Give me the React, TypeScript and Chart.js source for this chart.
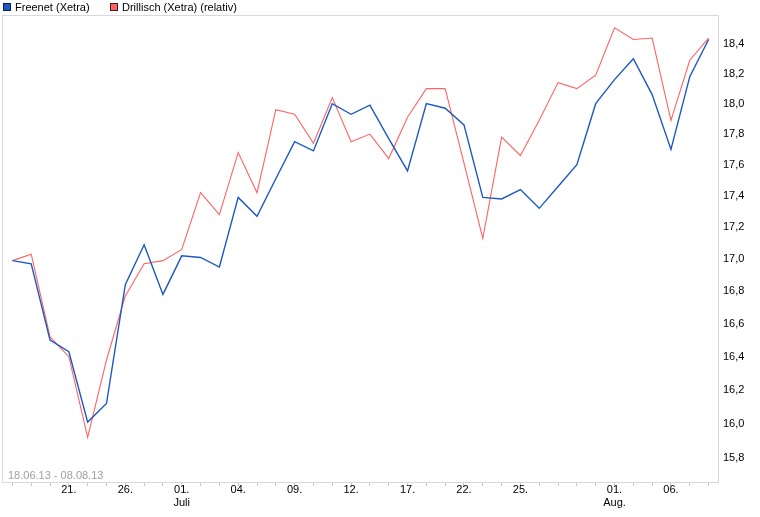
import React, { useEffect, useRef } from 'react';
import { Chart, registerables } from 'chart.js';

Chart.register(...registerables);

// Trading days 18.06.13 - 08.08.13
const categories = [
  '18.06.13', '19.06.13', '20.06.13', '21.06.13', '24.06.13', '25.06.13', '26.06.13', '27.06.13', '28.06.13',
  '01.07.13', '02.07.13', '03.07.13', '04.07.13', '05.07.13', '08.07.13', '09.07.13', '10.07.13', '11.07.13',
  '12.07.13', '15.07.13', '16.07.13', '17.07.13', '18.07.13', '19.07.13', '22.07.13', '23.07.13', '24.07.13',
  '25.07.13', '26.07.13', '29.07.13', '30.07.13', '31.07.13', '01.08.13', '02.08.13', '05.08.13', '06.08.13',
  '07.08.13', '08.08.13',
];

const xTickLabels: (string | string[])[] = [
  '', '', '', '21.', '', '', '26.', '', '',
  ['01.', 'Juli'], '', '', '04.', '', '', '09.', '', '',
  '12.', '', '', '17.', '', '', '22.', '', '',
  '25.', '', '', '', '', ['01.', 'Aug.'], '', '', '06.',
  '', '',
];

const freenet = [
  16.99, 16.97, 16.50, 16.43, 16.01, 16.12, 16.84, 17.09, 16.78,
  17.02, 17.01, 16.95, 17.39, 17.27, 17.51, 17.75, 17.69, 18.00,
  17.93, 17.99, 17.77, 17.56, 18.00, 17.97, 17.86, 17.39, 17.38,
  17.44, 17.32, 17.46, 17.60, 18.00, 18.16, 18.30, 18.06, 17.70,
  18.18, 18.43,
];

const drillischRel = [
  16.99, 17.03, 16.52, 16.40, 15.92, 16.38, 16.77, 16.97, 16.99,
  17.06, 17.42, 17.28, 17.68, 17.42, 17.96, 17.93, 17.74, 18.04,
  17.75, 17.80, 17.64, 17.91, 18.10, 18.10, 17.61, 17.13, 17.78,
  17.66, 17.89, 18.14, 18.10, 18.19, 18.51, 18.43, 18.44, 17.89,
  18.29, 18.44,
];

const yTicks = [15.8, 16.0, 16.2, 16.4, 16.6, 16.8, 17.0, 17.2, 17.4, 17.6, 17.8, 18.0, 18.2, 18.4];

const seriesNames = ['Freenet (Xetra)', 'Drillisch (Xetra) (relativ)'];
const dateRange = '18.06.13 - 08.08.13';

const FONT_FAMILY = '"Liberation Sans", Arial, sans-serif';
const BLUE = '#1c58c4';
const RED = '#ff6464';

export default function App() {
  const ref = useRef<HTMLCanvasElement>(null);

  useEffect(() => {
    const canvas = ref.current;
    if (!canvas) return;

    const decorations = {
      id: 'decorations',
      beforeDatasetsDraw(chart: any) {
        const { ctx, chartArea: a } = chart;
        ctx.save();
        ctx.strokeStyle = '#d9d9d9';
        ctx.lineWidth = 1;
        ctx.strokeRect(a.left - 0.5, a.top + 0.5, a.right - a.left + 1, a.bottom - a.top);
        ctx.font = `11px ${FONT_FAMILY}`;
        ctx.fillStyle = '#a0a0a0';
        ctx.textBaseline = 'middle';
        ctx.textAlign = 'left';
        ctx.fillText(dateRange, a.left + 5, a.bottom - 6);
        ctx.restore();
      },
      afterDraw(chart: any) {
        const { ctx } = chart;
        ctx.save();
        ctx.font = `11px ${FONT_FAMILY}`;
        ctx.textBaseline = 'middle';
        ctx.textAlign = 'left';
        const items = [
          { x: 3, text: seriesNames[0], fill: BLUE, stroke: '#10204a' },
          { x: 110, text: seriesNames[1], fill: RED, stroke: '#4a1a1a' },
        ];
        items.forEach((it) => {
          ctx.fillStyle = it.fill;
          ctx.fillRect(it.x, 3, 8, 8);
          ctx.strokeStyle = it.stroke;
          ctx.lineWidth = 1;
          ctx.strokeRect(it.x + 0.5, 3.5, 7, 7);
          ctx.fillStyle = '#000';
          ctx.fillText(it.text, it.x + 12, 7.5);
        });
        ctx.restore();
      },
    };

    const chart = new Chart(canvas, {
      type: 'line',
      data: {
        labels: categories,
        datasets: [
          {
            label: seriesNames[0],
            data: freenet,
            borderColor: BLUE,
            borderWidth: 1.4,
            pointRadius: 0,
            tension: 0,
            fill: false,
          },
          {
            label: seriesNames[1],
            data: drillischRel,
            borderColor: RED,
            borderWidth: 1.1,
            pointRadius: 0,
            tension: 0,
            fill: false,
          },
        ],
      },
      options: {
        responsive: false,
        animation: false,
        events: [],
        layout: { padding: { left: 3, top: 15, right: 0, bottom: 0 } },
        plugins: {
          legend: { display: false },
          tooltip: { enabled: false },
          title: { display: false },
        },
        scales: {
          x: {
            type: 'category',
            offset: true,
            grid: {
              display: true,
              drawOnChartArea: false,
              drawTicks: true,
              tickLength: 4,
              color: '#c8c8c8',
              offset: false,
            },
            border: { display: false },
            ticks: {
              autoSkip: false,
              maxRotation: 0,
              minRotation: 0,
              padding: -3,
              color: '#000',
              font: { family: FONT_FAMILY, size: 11 },
              callback: (_v: any, i: number) => xTickLabels[i],
            },
            afterFit: (s: any) => {
              s.height = 35;
            },
          },
          y: {
            type: 'logarithmic',
            position: 'right',
            min: 15.661,
            max: 18.597,
            bounds: 'data',
            grid: { display: false, drawTicks: false },
            border: { display: false },
            afterBuildTicks: (s: any) => {
              s.ticks = yTicks.map((v) => ({ value: v }));
            },
            ticks: {
              autoSkip: false,
              padding: 5,
              color: '#000',
              font: { family: FONT_FAMILY, size: 11 },
              callback: (v: any) => Number(v).toFixed(1).replace('.', ','),
            },
            afterFit: (s: any) => {
              s.width = 42;
            },
          },
        },
      },
      plugins: [decorations],
    } as any);

    return () => chart.destroy();
  }, []);

  return (
    <div style={{ position: 'fixed', left: 0, top: 0, width: 760, height: 517, background: '#fff' }}>
      <canvas ref={ref} width={760} height={517} style={{ display: 'block' }} />
    </div>
  );
}
